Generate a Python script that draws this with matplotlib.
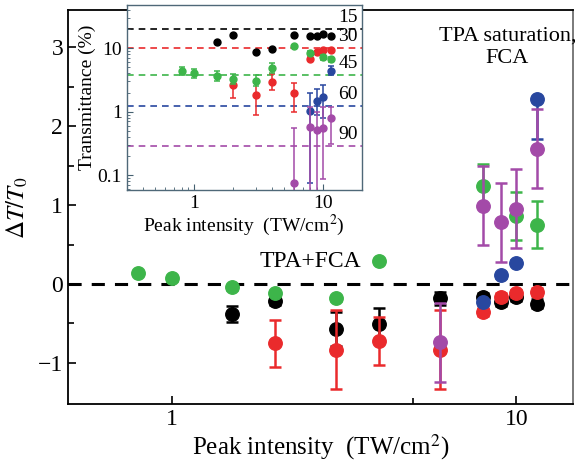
import numpy as np
import matplotlib
matplotlib.use("Agg")
import matplotlib.pyplot as plt
from matplotlib.ticker import FixedLocator, FixedFormatter, NullFormatter

plt.rcParams["font.family"] = "serif"
plt.rcParams["font.serif"] = ["Liberation Serif", "DejaVu Serif"]
plt.rcParams["mathtext.fontset"] = "stix"

# colours for the polarisation angles
c_black = "#000000"
c_red = "#ea2a2c"
c_green = "#3db54a"
c_blue = "#28479f"
c_purple = "#a34aa8"

# ---- main panel: relative transmission change vs peak intensity ----
I_black = [1.5, 2, 3, 4, 6, 8, 9, 10, 11.5]
dT_black = [-0.38, -0.21, -0.57, -0.51, -0.18, -0.17, -0.23, -0.17, -0.25]
err_black = [0.10, 0.05, 0.22, 0.20, 0.08, 0.05, 0.05, 0.05, 0.06]

I_red = [2, 3, 4, 6, 8, 9, 10, 11.5]
dT_red = [-0.75, -0.83, -0.72, -0.83, -0.35, -0.17, -0.12, -0.10]
err_red = [0.30, 0.50, 0.30, 0.50, 0.05, 0.05, 0.05, 0.05]

I_green = [0.8, 1, 1.5, 2, 3, 4, 8, 10, 11.5]
dT_green = [0.14, 0.07, -0.04, -0.12, -0.18, 0.29, 1.24, 0.86, 0.75]
err_green = [0.03, 0.03, 0.03, 0.03, 0.03, 0.03, 0.28, 0.30, 0.30]

I_blue = [8, 9, 10, 11.5]
dT_blue = [-0.23, 0.11, 0.27, 2.34]
err_blue_lo = [0.03, 0.03, 0.03, 0.50]
err_blue_hi = [0.03, 0.03, 0.03, 0.0]

I_purple = [6, 8, 9, 10, 11.5]
dT_purple = [-0.74, 0.99, 0.78, 0.95, 1.71]
err_purple = [0.50, 0.50, 0.50, 0.50, 0.50]

# ---- inset: transmittance (%) vs peak intensity ----
Ti_black = [1.5, 2, 3, 4, 6, 8, 9, 10, 11.5]
T_black = [12.3, 16.2, 8.6, 9.7, 16.2, 15.6, 15.6, 16.6, 15.3]

Ti_red = [2, 3, 4, 6, 8, 9, 10, 11.5]
T_red = [2.63, 1.83, 2.97, 1.95, 6.8, 8.6, 9.2, 9.2]
T_red_lo = [1.66, 0.885, 2.2, 1.0, 6.2, 8.2, 8.8, 8.8]
T_red_hi = [3.3, 2.8, 3.9, 2.8, 7.4, 9.0, 9.6, 9.6]

Ti_green = [0.8, 1, 1.5, 2, 3, 4, 6, 8, 10, 11.5]
T_green = [4.4, 4.0, 3.6, 3.27, 3.07, 4.9, 10.9, 8.5, 7.2, 6.7]
T_green_lo = [3.8, 3.4, 3.0, 2.7, 2.5, 4.1, 10.4, 8.1, 6.6, 6.1]
T_green_hi = [5.1, 4.7, 4.4, 3.9, 3.8, 5.9, 11.4, 8.9, 7.9, 7.3]

Ti_blue = [8, 9, 10, 11.5]
T_blue = [1.02, 1.49, 1.7, 4.4]
T_blue_lo = [0.075, 0.9, 0.79, 3.8]
T_blue_hi = [1.95, 2.3, 2.6, 5.2]

Ti_purple = [6, 8, 9, 10, 11.5]
T_purple = [0.076, 0.58, 0.51, 0.56, 0.79]
T_purple_lo = [0.03, 0.03, 0.03, 0.087, 0.31]
T_purple_hi = [0.56, 1.17, 1.0, 1.2, 1.2]

# linear-regime transmittance for each angle (dashed levels)
angles = ["15", "30", "45", "60", "90"]
T_linear = [20, 10.2, 3.8, 1.23, 0.29]
angle_colors = [c_black, c_red, c_green, c_blue, c_purple]

fig = plt.figure(figsize=(5.75, 4.67), dpi=100)
ax = fig.add_axes([0.1183, 0.1349, 0.8782, 0.8437])

ax.axhline(0, color="k", lw=2.2, ls=(0, (4.3, 3.3)), zorder=1)

ms_main = 9.7
kw = dict(fmt="o", ms=ms_main, capsize=4.5, elinewidth=1.8, capthick=1.8)
ax.errorbar(I_black, dT_black, yerr=err_black, color=c_black, zorder=2, **kw)
ax.errorbar(I_red, dT_red, yerr=err_red, color=c_red, zorder=3, **kw)
ax.errorbar(I_green, dT_green, yerr=err_green, color=c_green, zorder=4, **kw)
ax.errorbar(I_blue, dT_blue, yerr=[err_blue_lo, err_blue_hi], color=c_blue, zorder=5, **kw)
ax.errorbar(I_purple, dT_purple, yerr=err_purple, color=c_purple, zorder=6, **kw)

ax.set_xscale("log")
ax.set_xlim(0.5, 14.6)
ax.set_ylim(-1.52, 3.47)
ax.xaxis.set_major_locator(FixedLocator([1, 10]))
ax.xaxis.set_major_formatter(FixedFormatter(["1", "10"]))
ax.xaxis.set_minor_locator(FixedLocator([5]))
ax.xaxis.set_minor_formatter(NullFormatter())
ax.set_yticks([-1, 0, 1, 2, 3])
ax.set_yticklabels(["\u22121", "0", "1", "2", "3"])
ax.yaxis.set_minor_locator(FixedLocator([-0.5, 0.5, 1.5, 2.5]))
ax.tick_params(which="both", direction="in", top=False, right=False,
               labelsize=17, width=1.2)
ax.tick_params(which="major", length=6)
ax.tick_params(which="minor", length=4)
for s in ax.spines.values():
    s.set_linewidth(1.3)
ax.spines["right"].set_color("#707070")

ax.set_xlabel("Peak intensity  (TW/cm$^2$)", fontsize=18, labelpad=2)
ax.set_ylabel(r"$\Delta T/T_0$", fontsize=18, labelpad=6)

ax.text(0.87, 0.905, "TPA saturation,\nFCA", transform=ax.transAxes,
        ha="center", va="center", fontsize=16, linespacing=1.25)
ax.text(3.55, 0.29, "TPA+FCA", ha="right", va="center", fontsize=17)

# ---- inset ----
axi = fig.add_axes([0.2203, 0.5931, 0.4087, 0.3962])
axi.set_xscale("log")
axi.set_yscale("log")
axi.set_xlim(0.3, 20)
axi.set_ylim(0.058, 48)

for lvl, c in zip(T_linear, angle_colors):
    axi.axhline(lvl, color=c, lw=1.2, ls=(0, (4, 3)), zorder=1)
for lab, lvl in zip(angles, T_linear):
    axi.annotate(lab, xy=(1, lvl), xycoords=("axes fraction", "data"),
                 xytext=(-3, 2), textcoords="offset points",
                 ha="right", va="bottom", fontsize=14)


def asym(vals, lo, hi):
    v = np.array(vals)
    return [v - np.array(lo), np.array(hi) - v]


ikw = dict(fmt="o", ms=5, capsize=2.2, elinewidth=1.1, capthick=1.1)
axi.plot(Ti_black, T_black, "o", color=c_black, ms=5, zorder=2)
axi.errorbar(Ti_red, T_red, yerr=asym(T_red, T_red_lo, T_red_hi), color=c_red, zorder=3, **ikw)
axi.errorbar(Ti_green, T_green, yerr=asym(T_green, T_green_lo, T_green_hi), color=c_green, zorder=4, **ikw)
axi.errorbar(Ti_blue, T_blue, yerr=asym(T_blue, T_blue_lo, T_blue_hi), color=c_blue, zorder=5, **ikw)
axi.errorbar(Ti_purple, T_purple, yerr=asym(T_purple, T_purple_lo, T_purple_hi), color=c_purple, zorder=6, **ikw)

axi.xaxis.set_major_locator(FixedLocator([1, 10]))
axi.xaxis.set_major_formatter(FixedFormatter(["1", "10"]))
axi.xaxis.set_minor_formatter(NullFormatter())
axi.yaxis.set_major_locator(FixedLocator([0.1, 1, 10]))
axi.yaxis.set_major_formatter(FixedFormatter(["0.1", "1", "10"]))
axi.yaxis.set_minor_formatter(NullFormatter())
axi.tick_params(which="both", direction="in", labelsize=14, color="#456070")
axi.tick_params(which="major", length=4)
axi.tick_params(which="minor", length=2)
for s in axi.spines.values():
    s.set_color("#4f6878")
    s.set_linewidth(1.0)
axi.set_xlabel("Peak intensity  (TW/cm$^2$)", fontsize=14, labelpad=1)
axi.set_ylabel("Transmittance (%)", fontsize=14, labelpad=1)

fig.savefig("out.png", dpi=100)
